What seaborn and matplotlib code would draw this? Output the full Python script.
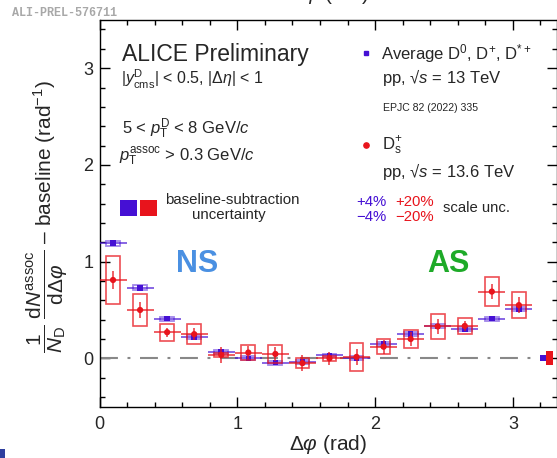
import matplotlib
matplotlib.use("Agg")
import matplotlib.pyplot as plt
from matplotlib.patches import Rectangle
from matplotlib.ticker import MultipleLocator
import numpy as np
import pandas as pd
import seaborn as sns

# 16 delta-phi bins of width pi/16 in [0, pi]
bin_width = np.pi / 16
dphi = (np.arange(16) + 0.5) * bin_width
box_width = 0.1

# average D0, D+, D*+  (pp, 13 TeV)
avg_y = [1.19, 0.73, 0.41, 0.22, 0.065, 0.00, -0.045, -0.035, 0.03, 0.00, 0.15, 0.25, 0.33, 0.30, 0.41, 0.51]
avg_stat = [0.02, 0.02, 0.015, 0.015, 0.015, 0.015, 0.015, 0.015, 0.015, 0.015, 0.015, 0.015, 0.015, 0.015, 0.015, 0.02]
avg_syst = [0.028, 0.025, 0.02, 0.02, 0.02, 0.02, 0.02, 0.02, 0.02, 0.02, 0.02, 0.02, 0.02, 0.02, 0.02, 0.025]

# Ds+  (pp, 13.6 TeV)
ds_y = [0.81, 0.50, 0.27, 0.25, 0.035, 0.06, 0.045, -0.05, 0.00, 0.015, 0.12, 0.20, 0.33, 0.335, 0.69, 0.55]
ds_stat = [0.09, 0.08, 0.045, 0.06, 0.08, 0.065, 0.07, 0.085, 0.07, 0.08, 0.07, 0.07, 0.075, 0.055, 0.08, 0.08]
ds_syst = [0.25, 0.165, 0.09, 0.10, 0.02, 0.08, 0.09, 0.055, 0.025, 0.145, 0.075, 0.09, 0.13, 0.085, 0.15, 0.135]

# baseline-subtraction uncertainty (drawn at the right edge)
base_x = [3.22, 3.267]
base_w = [0.048, 0.048]
base_unc = [0.031, 0.071]

BLUE = "#4510d4"
RED = "#e8141c"

sns.set_theme(style="ticks")
plt.rcParams["font.family"] = ["Liberation Sans", "DejaVu Sans"]
plt.rcParams["mathtext.fontset"] = "custom"
plt.rcParams["mathtext.rm"] = "Liberation Sans"
plt.rcParams["mathtext.it"] = "Liberation Sans:italic"
plt.rcParams["mathtext.bf"] = "Liberation Sans:bold"
plt.rcParams["mathtext.sf"] = "Liberation Sans"

W, H = 557, 458
def fx(px):
    return px / W
def fy(py):
    return 1 - py / H

fig = plt.figure(figsize=(W / 100, H / 100), dpi=100)
ax = fig.add_axes([fx(99.5), fy(406.7), 1 - fx(99.5), fy(19.8) - fy(406.7)])

df_avg = pd.DataFrame({"dphi": dphi, "y": avg_y, "stat": avg_stat, "syst": avg_syst})
df_ds = pd.DataFrame({"dphi": dphi, "y": ds_y, "stat": ds_stat, "syst": ds_syst})

ax.hlines(0, 0, np.pi, colors="#888888", lw=1.5, linestyles=[(0, (8.6, 4.6, 1.4, 4.6))], zorder=1)

# average D: boxes, error bars, markers
for x, y, s in zip(df_avg.dphi, df_avg.y, df_avg.syst):
    ax.add_patch(Rectangle((x - box_width / 2, y - s), box_width, 2 * s, fill=False,
                           ec=BLUE, alpha=0.5, lw=1.3, zorder=2))
ax.errorbar(df_avg.dphi, df_avg.y, xerr=bin_width / 2, yerr=df_avg.stat, fmt="none",
            ecolor=BLUE, elinewidth=1.2, alpha=0.75, zorder=3)
sns.scatterplot(data=df_avg, x="dphi", y="y", marker="s", s=16, color=BLUE,
                edgecolor="none", ax=ax, zorder=4)

# Ds: boxes, error bars, markers
for x, y, s in zip(df_ds.dphi, df_ds.y, df_ds.syst):
    ax.add_patch(Rectangle((x - box_width / 2, y - s), box_width, 2 * s, fill=False,
                           ec=RED, alpha=0.75, lw=1.2, zorder=5))
ax.errorbar(df_ds.dphi, df_ds.y, xerr=bin_width / 2, yerr=df_ds.stat, fmt="none",
            ecolor=RED, elinewidth=1.2, alpha=0.8, zorder=6)
sns.scatterplot(data=df_ds, x="dphi", y="y", marker="o", s=20, color=RED,
                edgecolor="none", ax=ax, zorder=7)

# baseline uncertainty boxes
for x, w, u, c in zip(base_x, base_w, base_unc, [BLUE, RED]):
    ax.add_patch(Rectangle((x - w / 2, -u), w, 2 * u, color=c, lw=0, zorder=8, clip_on=False))

ax.set_xlim(0, 457.5 / 137.8)
ax.set_ylim(-0.5, 3.5)
ax.xaxis.set_major_locator(MultipleLocator(1))
ax.xaxis.set_minor_locator(MultipleLocator(0.2))
ax.yaxis.set_major_locator(MultipleLocator(1))
ax.yaxis.set_minor_locator(MultipleLocator(0.2))
ax.tick_params(which="both", direction="in", top=True, right=True, width=1, color="black")
ax.tick_params(which="major", length=7.5, labelsize=13)
ax.tick_params(which="minor", length=3.8)
ax.tick_params(axis="x", which="major", pad=7)
ax.tick_params(axis="y", which="major", pad=4.5)
for sp in ax.spines.values():
    sp.set_visible(True)
    sp.set_linewidth(1)
    sp.set_color("black")
ax.set_xlabel("")
ax.set_ylabel("")

fig.text(fx(328.5), fy(445), r"$\Delta\varphi$ (rad)", fontsize=15, ha="center", va="center")
# top edge: the upper axis title is cut off in the original crop
fig.text(fx(330), fy(5.5), r"$\Delta\varphi$ (rad)", fontsize=15, ha="center", va="bottom")
fig.text(fx(47), fy(217),
         r"$\dfrac{1}{N_{\mathrm{D}}}\ \dfrac{\mathrm{d}N^{\mathrm{assoc}}}{\mathrm{d}\Delta\varphi}$ – baseline (rad$^{-1}$)",
         fontsize=15, rotation=90, ha="center", va="center")

fig.text(fx(12), fy(13.5), "ALI-PREL-576711", fontsize=8.5, family="Liberation Mono",
         weight="bold", color="#a8a8a8", ha="left", va="center")

# left block
fig.text(fx(121.7), fy(60.7), "ALICE Preliminary", fontsize=16.5, ha="left", va="baseline")
fig.text(fx(120.7), fy(85), r"$|y^{\mathrm{D}}_{\mathrm{cms}}|$ < 0.5, $|\Delta\eta|$ < 1",
         fontsize=11.5, ha="left", va="baseline")
fig.text(fx(121.7), fy(134), r"5 < $p_{\mathrm{T}}^{\mathrm{D}}$ < 8 GeV/$c$",
         fontsize=12, ha="left", va="baseline")
fig.text(fx(119), fy(161), r"$p_{\mathrm{T}}^{\mathrm{assoc}}$ > 0.3 GeV/$c$",
         fontsize=12, ha="left", va="baseline")
for x0, c in zip([120, 140], [BLUE, RED]):
    fig.patches.append(Rectangle((fx(x0), fy(215.7)), fx(16.7), fy(200) - fy(215.7),
                                 transform=fig.transFigure, color=c, lw=0))
fig.text(fx(232.5), fy(200.5), "baseline-subtraction", fontsize=10.8, ha="center", va="center")
fig.text(fx(228.5), fy(215.5), "uncertainty", fontsize=10.8, ha="center", va="center")

# right block
fig.lines.append(plt.Line2D([fx(366)], [fy(52.7)], marker="s", ms=3.3, color=BLUE,
                            transform=fig.transFigure))
fig.lines.append(plt.Line2D([fx(366)], [fy(145)], marker="o", ms=3.8, color=RED,
                            transform=fig.transFigure))
fig.text(fx(380.7), fy(59.3), r"Average D$^{0}$, D$^{+}$, D$^{*+}$", fontsize=12, ha="left", va="baseline")
fig.text(fx(381.7), fy(83.3), r"pp, √$s$ = 13 TeV", fontsize=12, ha="left", va="baseline")
fig.text(fx(382.7), fy(108.3), "EPJC 82 (2022) 335", fontsize=7.6, ha="left", va="center")
fig.text(fx(381.7), fy(150), r"D$_{\mathrm{s}}^{+}$", fontsize=12, ha="left", va="baseline")
fig.text(fx(381.7), fy(176.7), r"pp, √$s$ = 13.6 TeV", fontsize=12, ha="left", va="baseline")
fig.text(fx(356.7), fy(201.7), "+4%", fontsize=10.7, color=BLUE, ha="left", va="center")
fig.text(fx(356.7), fy(216.7), "−4%", fontsize=10.7, color=BLUE, ha="left", va="center")
fig.text(fx(395), fy(201.7), "+20%", fontsize=10.7, color=RED, ha="left", va="center")
fig.text(fx(395), fy(216.7), "−20%", fontsize=10.7, color=RED, ha="left", va="center")
fig.text(fx(443.3), fy(208.3), "scale unc.", fontsize=10.7, ha="left", va="center")

fig.text(fx(197), fy(264), "NS", fontsize=22, weight="bold", color="#4a90e2", ha="center", va="center")
fig.text(fx(448), fy(264), "AS", fontsize=22, weight="bold", color="#1eaa28", ha="center", va="center")

# corner fragment
fig.patches.append(Rectangle((0, 0), fx(5), 1 - fy(9), transform=fig.transFigure,
                             color="#2e3f9e", lw=0))

fig.savefig("out.png", dpi=100)
